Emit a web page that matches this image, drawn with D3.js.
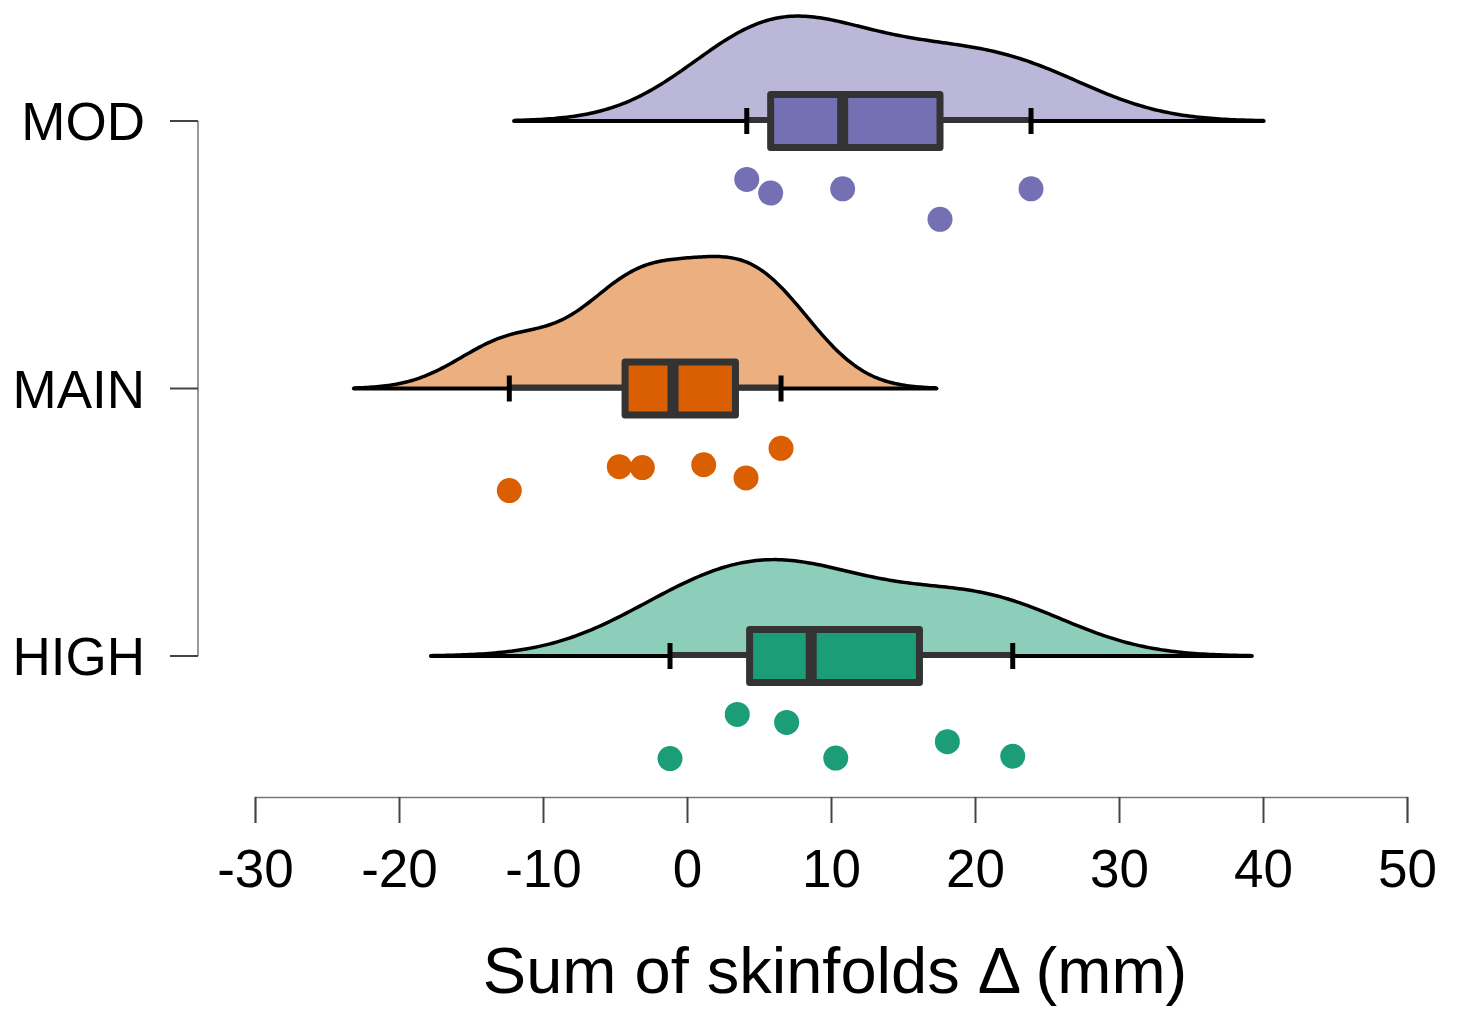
<!DOCTYPE html>
<html>
<head>
<meta charset="utf-8">
<script src="https://cdn.jsdelivr.net/npm/d3@7"></script>
<style>
  body { margin: 0; background: #fff; }
  svg text { font-family: "Liberation Sans", Arial, sans-serif; fill: #000; }
</style>
</head>
<body>
<div id="chart"></div>
<script>
// groups, top to bottom
const groups = ["MOD", "MAIN", "HIGH"];
// individual change values (mm) per group
const modValues = [4.15, 5.81, 10.81, 17.57, 23.89];
const mainValues = [-12.34, -4.70, -3.10, 1.16, 4.10, 6.53];
const highValues = [-1.18, 3.49, 6.92, 10.33, 18.08, 22.62];
// vertical jitter of the rain points (0 = just under box, 1 = lowest)
const modJitter = [0.03, 0.32, 0.23, 0.88, 0.23];
const mainJitter = [0.96, 0.45, 0.47, 0.41, 0.69, 0.06];
const highJitter = [0.97, 0.03, 0.20, 0.96, 0.61, 0.92];
const xTicks = [-30, -20, -10, 0, 10, 20, 30, 40, 50];
const darkColors = ["#7570B3", "#D95F02", "#1B9E77"];

const values = [modValues, mainValues, highValues];
const jitters = [modJitter, mainJitter, highJitter];

const w = 1458, h = 1009;
const svg = d3.select("#chart").append("svg").attr("width", w).attr("height", h);

const x = d3.scaleLinear().domain([-30, 50]).range([255, 1407]);
const y = d3.scalePoint().domain(groups).range([121, 656]);
const jit = d3.scaleLinear().domain([0, 1]).range([57, 104]);

// R style density(): gaussian kernel, bw.nrd0, cut = 3
function bwNrd0(v) {
  const s = d3.deviation(v);
  const iqr = d3.quantile(v, 0.75) - d3.quantile(v, 0.25);
  return 0.9 * Math.min(s, iqr / 1.34) * Math.pow(v.length, -0.2);
}
function kde(v) {
  const bw = bwNrd0(v);
  const lo = d3.min(v) - 3 * bw, hi = d3.max(v) + 3 * bw;
  const n = 256;
  return d3.range(n).map(i => {
    const t = lo + (hi - lo) * i / (n - 1);
    const d = d3.mean(v, e => Math.exp(-0.5 * ((t - e) / bw) ** 2)) / (bw * Math.sqrt(2 * Math.PI));
    return [t, d];
  });
}

const dens = values.map(v => kde(v.slice().sort(d3.ascending)));
const maxD = d3.max(dens, d => d3.max(d, e => e[1]));
const hScale = d3.scaleLinear().domain([0, maxD]).range([0, 132]);

// axes
svg.append("line").attr("x1", 198).attr("x2", 198).attr("y1", y("MOD")).attr("y2", y("HIGH"))
  .attr("stroke", "#777").attr("stroke-width", 1.5);
groups.forEach(g => {
  svg.append("line").attr("x1", 170).attr("x2", 198).attr("y1", y(g)).attr("y2", y(g))
    .attr("stroke", "#444").attr("stroke-width", 2);
  svg.append("text").attr("x", 145).attr("y", y(g)).attr("dy", "0.36em")
    .attr("text-anchor", "end").attr("font-size", 53).text(g);
});

const xAxis = d3.axisBottom(x).tickValues(xTicks).tickSize(26).tickPadding(26).tickFormat(d => String(d));
const gx = svg.append("g").attr("transform", "translate(0,797)").call(xAxis);
gx.select(".domain").attr("stroke", "#777").attr("stroke-width", 1.5);
gx.selectAll(".tick line").attr("stroke", "#444").attr("stroke-width", 2);
gx.selectAll(".tick text").attr("font-size", 53).attr("font-family", "Liberation Sans, Arial, sans-serif").attr("fill", "#000");

svg.append("text").attr("x", 835).attr("y", 993).attr("text-anchor", "middle")
  .attr("font-size", 65).text("Sum of skinfolds \u0394 (mm)");

// clouds, boxes, rain
groups.forEach((g, i) => {
  const base = y(g);
  const v = values[i].slice().sort(d3.ascending);
  const d = dens[i];

  const area = d3.area().x(e => x(e[0])).y0(base).y1(e => base - hScale(e[1]));
  const line = d3.line().x(e => x(e[0])).y(e => base - hScale(e[1]));

  svg.append("path").datum(d).attr("d", area).attr("fill", darkColors[i]).attr("fill-opacity", 0.5);
  svg.append("path").datum(d).attr("d", line).attr("fill", "none").attr("stroke", "#000").attr("stroke-width", 3.5);
  svg.append("line").attr("x1", x(d[0][0])).attr("x2", x(d[d.length - 1][0]))
    .attr("y1", base).attr("y2", base).attr("stroke", "#000").attr("stroke-width", 4).attr("stroke-linecap", "round");

  const q1 = d3.quantile(v, 0.25), med = d3.quantile(v, 0.5), q3 = d3.quantile(v, 0.75);
  const lo = d3.min(v), hi = d3.max(v);

  svg.append("line").attr("x1", x(lo)).attr("x2", x(hi)).attr("y1", base - 1).attr("y2", base - 1)
    .attr("stroke", "#333").attr("stroke-width", 6);
  [lo, hi].forEach(t => {
    svg.append("line").attr("x1", x(t)).attr("x2", x(t)).attr("y1", base - 13).attr("y2", base + 13)
      .attr("stroke", "#000").attr("stroke-width", 5);
  });
  svg.append("rect").attr("x", x(q1)).attr("y", base - 26.5).attr("width", x(q3) - x(q1)).attr("height", 53)
    .attr("fill", darkColors[i]).attr("stroke", "#333").attr("stroke-width", 7).attr("stroke-linejoin", "round");
  svg.append("line").attr("x1", x(med)).attr("x2", x(med)).attr("y1", base - 26.5).attr("y2", base + 26.5)
    .attr("stroke", "#333").attr("stroke-width", 11);

  svg.selectAll(null).data(values[i]).enter().append("circle")
    .attr("cx", e => x(e))
    .attr("cy", (e, k) => base + jit(jitters[i][k]))
    .attr("r", 12.5)
    .attr("fill", darkColors[i]);
});
</script>
</body>
</html>
